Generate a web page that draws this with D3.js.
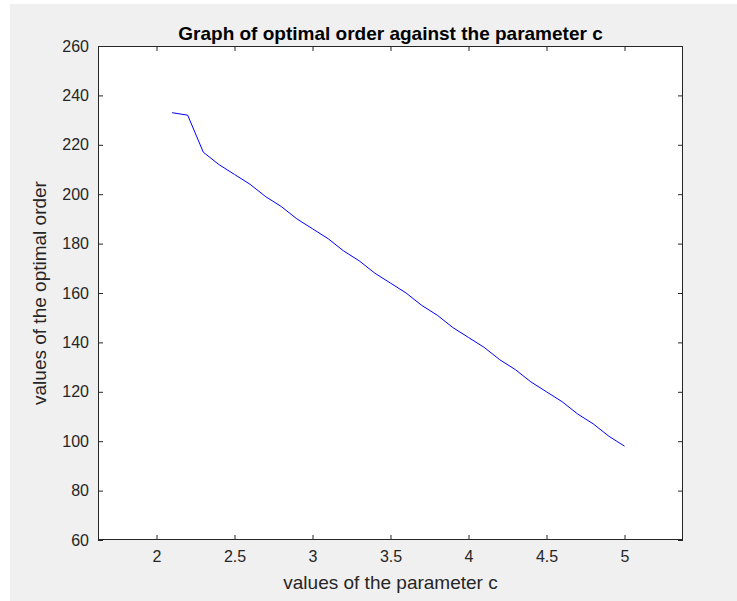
<!DOCTYPE html>
<html>
<head>
<meta charset="utf-8">
<script src="https://cdn.jsdelivr.net/npm/d3@7"></script>
<style>
  html, body { margin: 0; padding: 0; background: #ffffff; }
  svg { display: block; font-family: "Liberation Sans", Arial, Helvetica, sans-serif; }
</style>
</head>
<body>
<svg id="chart" width="737" height="601"></svg>
<script>
// Parameter c and the optimal order computed for each value
const cValues = [2.1, 2.2, 2.3, 2.4, 2.5, 2.6, 2.7, 2.8, 2.9, 3.0,
                 3.1, 3.2, 3.3, 3.4, 3.5, 3.6, 3.7, 3.8, 3.9, 4.0,
                 4.1, 4.2, 4.3, 4.4, 4.5, 4.6, 4.7, 4.8, 4.9, 5.0];
const optimalOrder = [233, 232, 217, 212, 208, 204, 199, 195, 190, 186,
                      182, 177, 173, 168, 164, 160, 155, 151, 146, 142,
                      138, 133, 129, 124, 120, 116, 111, 107, 102, 98];

const xTicks = [2, 2.5, 3, 3.5, 4, 4.5, 5];
const yTicks = [60, 80, 100, 120, 140, 160, 180, 200, 220, 240, 260];

const titleText = "Graph of optimal order against the parameter c";
const xLabelText = "values of the parameter c";
const yLabelText = "values of the optimal order";

const svg = d3.select("#chart");
const W = 737, H = 601;
const box = { left: 98, top: 46, right: 683, bottom: 540 };

// figure background
svg.append("rect").attr("x", 10).attr("y", 4).attr("width", W - 10).attr("height", H - 4)
  .attr("fill", "#f0f0f0");

const x = d3.scaleLinear().domain([1.625, 5.375]).range([box.left, box.right]);
const y = d3.scaleLinear().domain([60, 260]).range([box.bottom, box.top]);

// axes area
svg.append("rect")
  .attr("x", box.left).attr("y", box.top)
  .attr("width", box.right - box.left).attr("height", box.bottom - box.top)
  .attr("fill", "#ffffff");

const axisColor = "#262626";
const tickLen = 5;

function styleAxis(g, showLabels) {
  g.select(".domain").remove();
  g.selectAll(".tick line").attr("stroke", axisColor).attr("stroke-width", 1);
  g.selectAll(".tick text")
    .attr("fill", axisColor)
    .style("font-size", "16px")
    .style("display", showLabels ? null : "none");
}

// bottom axis (labels), ticks point inward
svg.append("g")
  .attr("transform", `translate(0,${box.bottom})`)
  .call(d3.axisBottom(x).tickValues(xTicks).tickSizeInner(-tickLen).tickSizeOuter(0)
        .tickPadding(11).tickFormat(d3.format("")))
  .call(g => styleAxis(g, true));

// top axis (ticks only)
svg.append("g")
  .attr("transform", `translate(0,${box.top})`)
  .call(d3.axisTop(x).tickValues(xTicks).tickSizeInner(-tickLen).tickSizeOuter(0))
  .call(g => styleAxis(g, false));

// left axis (labels)
svg.append("g")
  .attr("transform", `translate(${box.left},0)`)
  .call(d3.axisLeft(y).tickValues(yTicks).tickSizeInner(-tickLen).tickSizeOuter(0)
        .tickPadding(9).tickFormat(d3.format("")))
  .call(g => styleAxis(g, true));

// right axis (ticks only)
svg.append("g")
  .attr("transform", `translate(${box.right},0)`)
  .call(d3.axisRight(y).tickValues(yTicks).tickSizeInner(-tickLen).tickSizeOuter(0))
  .call(g => styleAxis(g, false));

// box outline
svg.append("rect")
  .attr("x", box.left + 0.5).attr("y", box.top + 0.5)
  .attr("width", box.right - box.left - 1).attr("height", box.bottom - box.top - 1)
  .attr("fill", "none").attr("stroke", axisColor).attr("stroke-width", 1);

// data line
const points = cValues.map((c, i) => [c, optimalOrder[i]]);
svg.append("path")
  .datum(points)
  .attr("fill", "none")
  .attr("stroke", "#0000ff")
  .attr("stroke-width", 1)
  .attr("d", d3.line().x(d => x(d[0])).y(d => y(d[1])));

// title and axis labels
svg.append("text")
  .attr("x", (box.left + box.right) / 2).attr("y", 40)
  .attr("text-anchor", "middle")
  .attr("fill", "#000000")
  .style("font-size", "19px").style("font-weight", "bold")
  .text(titleText);

svg.append("text")
  .attr("x", (box.left + box.right) / 2).attr("y", 589)
  .attr("text-anchor", "middle")
  .attr("fill", axisColor)
  .style("font-size", "19px")
  .text(xLabelText);

svg.append("text")
  .attr("transform", `translate(46,${(box.top + box.bottom) / 2}) rotate(-90)`)
  .attr("text-anchor", "middle")
  .attr("fill", axisColor)
  .style("font-size", "19px")
  .text(yLabelText);
</script>
</body>
</html>
